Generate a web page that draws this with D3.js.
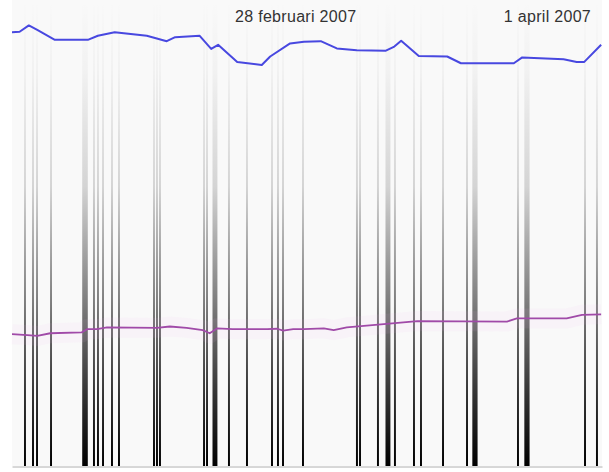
<!DOCTYPE html>
<html><head><meta charset="utf-8">
<script src="https://cdn.jsdelivr.net/npm/d3@7"></script>
<style>html,body{margin:0;padding:0;background:#fff;} svg{display:block;}</style>
</head><body><svg id="chart" width="609" height="472"></svg>
<script>
// ---- data ----
const startDate = new Date(2007, 0, 23);
const endDate = new Date(2007, 3, 8);
const tickDates = [new Date(2007, 1, 28), new Date(2007, 3, 1)];
const tickLabels = ["28 februari 2007", "1 april 2007"];

// blue series: day offsets from startDate and values
const blueDays = [0, 0.97, 2.14, 3.21, 5.45, 9.64, 10.91, 13.05, 17.14, 19.67, 20.74, 23.86, 25.32, 26.20, 28.63, 31.75, 32.82, 35.35, 37.11, 39.25, 41.29, 43.83, 47.53, 48.60, 49.47, 51.71, 55.32, 57.07, 63.79, 64.86, 70.12, 71.78, 72.75, 74.89];
const blueValues = [96.4, 96.5, 97.9, 96.9, 94.7, 94.7, 95.6, 96.4, 95.6, 94.4, 95.3, 95.6, 92.7, 93.6, 89.8, 89.1, 91.0, 93.9, 94.3, 94.4, 92.8, 92.4, 92.3, 93.2, 94.5, 91.1, 91.0, 89.5, 89.5, 90.8, 90.4, 89.8, 89.8, 93.6];

// purple series
const purpleDays = [0, 1.95, 3.21, 4.87, 8.86, 9.54, 10.81, 12.08, 18.41, 20.06, 22.20, 24.25, 25.13, 26.10, 28.05, 32.43, 33.70, 34.48, 35.74, 37.11, 39.64, 40.90, 42.56, 47.62, 51.52, 62.92, 64.18, 70.51, 72.46, 74.89];
const purpleValues = [29.3, 29.1, 28.9, 29.5, 29.7, 30.4, 30.4, 30.8, 30.7, 31.0, 30.7, 30.2, 29.5, 30.6, 30.4, 30.4, 30.5, 30.1, 30.4, 30.4, 30.6, 30.2, 30.8, 31.6, 32.2, 32.1, 32.8, 32.8, 33.6, 33.7];

// event bars: centre (day offset) and duration (hours)
const barDays = [1.65, 2.67, 3.18, 4.96, 9.28, 10.42, 10.93, 11.57, 12.71, 13.60, 18.05, 18.43, 18.81, 24.41, 24.79, 25.80, 27.58, 29.87, 33.05, 33.81, 34.45, 36.99, 43.85, 44.24, 46.52, 47.79, 48.68, 51.10, 51.99, 54.79, 57.84, 58.85, 64.32, 65.46, 72.84, 74.36];
const barHours = [6, 6, 6, 6, 17, 6, 6, 6, 6, 6, 6, 6, 6, 6, 6, 15, 6, 6, 6, 6, 6, 6, 6, 6, 6, 15, 6, 6, 6, 6, 6, 16, 6, 16, 6, 6];

// ---- chart ----
(function () {
const mLeft = 12, mRight = 602, mBottom = 466, mTop = 0;
const svg = d3.select("#chart");
const dayMs = 864e5;
const toDate = d => new Date(startDate.getTime() + d * dayMs);

const x = d3.scaleTime().domain([startDate, endDate]).range([mLeft, mRight]);
const y = d3.scaleLinear().domain([0, 100]).range([mBottom, 16]);

const defs = svg.append("defs");
const grad = defs.append("linearGradient").attr("id", "barGrad")
  .attr("gradientUnits", "userSpaceOnUse")
  .attr("x1", 0).attr("x2", 0).attr("y1", mTop).attr("y2", mBottom);
[[0, 0], [0.15, 0.03], [0.4, 0.15], [0.65, 0.5], [0.85, 0.8], [1, 1]].forEach(([o, a]) =>
  grad.append("stop").attr("offset", o).attr("stop-color", "#000").attr("stop-opacity", a));

svg.append("rect").attr("x", mLeft).attr("y", mTop).attr("width", mRight - mLeft).attr("height", mBottom - mTop)
  .attr("fill", "#f9f9f9");

const bars = barDays.map((d, i) => ({ c: d, h: barHours[i] }));
svg.append("g").selectAll("rect").data(bars).join("rect")
  .attr("x", d => x(toDate(d.c - d.h / 48)))
  .attr("width", d => x(toDate(d.c + d.h / 48)) - x(toDate(d.c - d.h / 48)))
  .attr("y", mTop).attr("height", mBottom - mTop)
  .attr("fill", "url(#barGrad)");

// bottom axis
const xAxis = d3.axisBottom(x).tickValues([]).tickSizeOuter(0);
const axG = svg.append("g").attr("transform", `translate(0,${mBottom + 0.5})`).call(xAxis);
axG.select(".domain").attr("stroke", "#b0b0b0");

const line = d3.line().x(d => x(toDate(d[0]))).y(d => y(d[1]));
const blue = blueDays.map((d, i) => [d, blueValues[i]]);
const purple = purpleDays.map((d, i) => [d, purpleValues[i]]);

svg.append("path").datum(purple).attr("d", line).attr("fill", "none")
  .attr("stroke", "#f4b8f0").attr("stroke-opacity", 0.08).attr("stroke-width", 20);
svg.append("path").datum(purple).attr("d", line).attr("fill", "none")
  .attr("stroke", "#a04aa8").attr("stroke-width", 1.8).attr("stroke-linejoin", "round");
svg.append("path").datum(blue).attr("d", line).attr("fill", "none")
  .attr("stroke", "#4848e0").attr("stroke-width", 2).attr("stroke-linejoin", "round");

// tick labels
const topAxis = d3.axisTop(x).tickValues(tickDates).tickSize(0).tickPadding(0)
  .tickFormat((d, i) => tickLabels[i]);
const tg = svg.append("g").attr("transform", "translate(0,22)").call(topAxis);
tg.select(".domain").remove();
tg.selectAll("text").attr("font-family", "Liberation Sans, Arial, sans-serif")
  .attr("font-size", 16).attr("letter-spacing", "0.3px").attr("fill", "#333").attr("dy", 0);
})();
</script>
</body></html>
